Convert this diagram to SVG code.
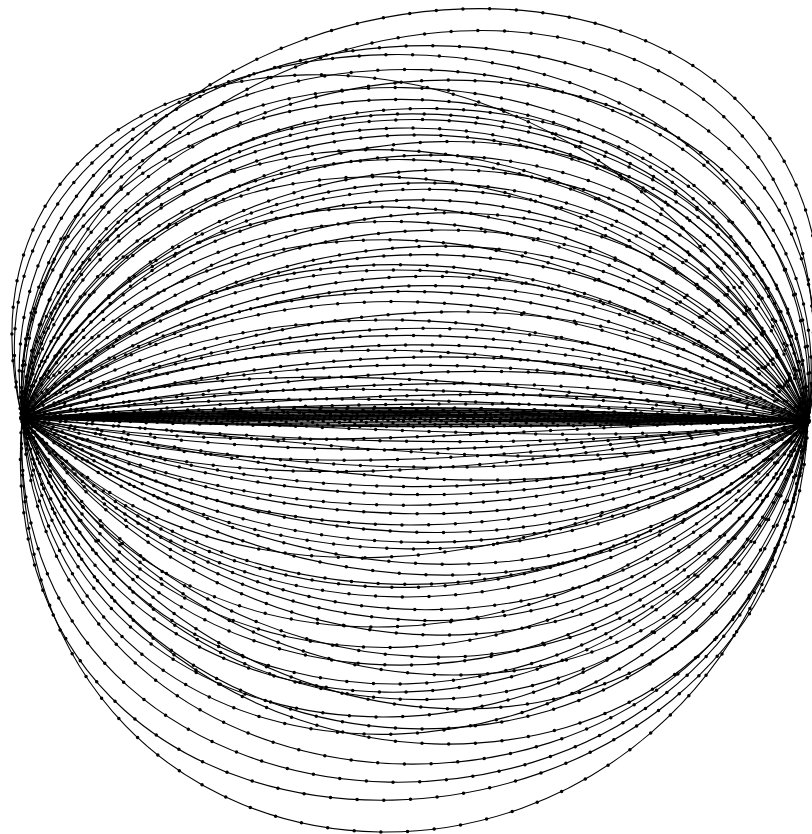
<svg xmlns="http://www.w3.org/2000/svg" width="812" height="834" viewBox="0 0 812 834">
<style>
.ln{fill:none;stroke:#000;stroke-width:1.1}
.dt{fill:none;stroke:#000;stroke-width:3.5;stroke-linecap:round;stroke-dasharray:0 26.7}
</style>
<defs>
<g id="E">
<path stroke-dashoffset="0" d="M22 418C20 -100 941 -156 808 421"/>
<path stroke-dashoffset="11" d="M22 418C60 -60 890 -137 808 421"/>
<path stroke-dashoffset="22" d="M22 418C-80 -20 620 -60 808 421"/>
<path stroke-dashoffset="6" d="M22 418C-39 -79 909 -79 808 421"/>
<path stroke-dashoffset="17" d="M22 418C-78 -52 838 -82 808 421"/>
<path stroke-dashoffset="1" d="M22 418C-6 -67 856 -27 808 421"/>
<path stroke-dashoffset="12" d="M22 418C40 -23 870 -43 808 421"/>
<path stroke-dashoffset="23" d="M22 418C-2 -33 802 -13 808 421"/>
<path stroke-dashoffset="7" d="M22 418C-7 18 757 -32 808 421"/>
<path stroke-dashoffset="18" d="M22 418C77 -10 813 20 808 421"/>
<path stroke-dashoffset="2" d="M22 418C49 17 771 7 808 421"/>
<path stroke-dashoffset="13" d="M22 418C88 -5 792 45 808 421"/>
<path stroke-dashoffset="24" d="M22 418C50 51 730 11 808 421"/>
<path stroke-dashoffset="8" d="M22 418C89 40 751 40 808 421"/>
<path stroke-dashoffset="19" d="M22 418C129 64 771 34 808 421"/>
<path stroke-dashoffset="3" d="M22 418C75 40 695 80 808 421"/>
<path stroke-dashoffset="14" d="M22 418C126 77 734 57 808 421"/>
<path stroke-dashoffset="25" d="M22 418C108 63 702 83 808 421"/>
<path stroke-dashoffset="9" d="M22 418C150 112 720 62 808 421"/>
<path stroke-dashoffset="20" d="M22 418C104 81 656 111 808 421"/>
<path stroke-dashoffset="4" d="M22 418C156 109 694 99 808 421"/>
<path stroke-dashoffset="15" d="M22 418C194 88 716 138 808 421"/>
<path stroke-dashoffset="26" d="M22 418C150 147 650 107 808 421"/>
<path stroke-dashoffset="10" d="M22 418C132 136 618 136 808 421"/>
<path stroke-dashoffset="21" d="M22 418C208 159 682 129 808 421"/>
<path stroke-dashoffset="5" d="M22 418C182 136 638 176 808 421"/>
<path stroke-dashoffset="16" d="M22 418C220 177 660 157 808 421"/>
<path stroke-dashoffset="0" d="M22 418C179 170 601 190 808 421"/>
<path stroke-dashoffset="11" d="M22 418C215 214 625 164 808 421"/>
<path stroke-dashoffset="22" d="M22 418C251 185 649 215 808 421"/>
<path stroke-dashoffset="6" d="M22 418C194 218 576 208 808 421"/>
<path stroke-dashoffset="17" d="M22 418C244 196 616 246 808 421"/>
<path stroke-dashoffset="1" d="M22 418C223 249 587 209 808 421"/>
<path stroke-dashoffset="12" d="M22 418C259 241 611 241 808 421"/>
<path stroke-dashoffset="23" d="M22 418C208 264 552 234 808 421"/>
<path stroke-dashoffset="7" d="M22 418C259 243 591 283 808 421"/>
<path stroke-dashoffset="18" d="M22 418C294 286 616 266 808 421"/>
<path stroke-dashoffset="2" d="M22 418C243 277 557 297 808 421"/>
<path stroke-dashoffset="13" d="M22 418C223 324 527 274 808 421"/>
<path stroke-dashoffset="24" d="M22 418C296 293 594 323 808 421"/>
<path stroke-dashoffset="8" d="M22 418C264 325 556 315 808 421"/>
<path stroke-dashoffset="19" d="M22 418C297 304 583 354 808 421"/>
<path stroke-dashoffset="3" d="M22 418C249 357 531 317 808 421"/>
<path stroke-dashoffset="14" d="M22 418C281 347 559 347 808 421"/>
<path stroke-dashoffset="25" d="M22 418C312 371 588 341 808 421"/>
<path stroke-dashoffset="9" d="M22 418C249 345 521 385 808 421"/>
<path stroke-dashoffset="20" d="M22 418C295 382 565 362 808 421"/>
<path stroke-dashoffset="4" d="M22 418C271 370 539 390 808 421"/>
<path stroke-dashoffset="15" d="M22 418C302 399 568 375 808 421"/>
<path stroke-dashoffset="26" d="M22 418C247 385 513 401 808 421"/>
<path stroke-dashoffset="10" d="M22 418C293 405 557 393 808 421"/>
<path stroke-dashoffset="21" d="M22 418C323 398 587 410 808 421"/>
<path stroke-dashoffset="5" d="M22 418C268 412 532 404 808 421"/>
<path stroke-dashoffset="16" d="M22 418C243 407 507 415 808 421"/>
<path stroke-dashoffset="0" d="M22 418C313 416 577 410 808 421"/>
<path stroke-dashoffset="11" d="M22 418C278 413 542 419 808 421"/>
<path stroke-dashoffset="22" d="M22 418C290 405 540 405 808 421"/>
<path stroke-dashoffset="6" d="M22 418C270 407 560 407 808 421"/>
<path stroke-dashoffset="17" d="M22 418C300 409 530 409 808 421"/>
<path stroke-dashoffset="1" d="M22 418C260 410 550 410 808 421"/>
<path stroke-dashoffset="12" d="M22 418C285 412 545 412 808 421"/>
<path stroke-dashoffset="23" d="M22 418C310 414 570 414 808 421"/>
<path stroke-dashoffset="7" d="M22 418C255 415 525 415 808 421"/>
<path stroke-dashoffset="18" d="M22 418C295 417 560 417 808 421"/>
<path stroke-dashoffset="2" d="M22 418C275 418 535 418 808 421"/>
<path stroke-dashoffset="13" d="M22 418C305 419 575 419 808 421"/>
<path stroke-dashoffset="24" d="M22 418C265 420 530 420 808 421"/>
<path stroke-dashoffset="8" d="M22 418C290 421 555 421 808 421"/>
<path stroke-dashoffset="19" d="M22 418C280 422 545 422 808 421"/>
<path stroke-dashoffset="3" d="M22 418C300 424 565 424 808 421"/>
<path stroke-dashoffset="14" d="M22 418C262 426 528 426 808 421"/>
<path stroke-dashoffset="25" d="M22 418C288 428 552 428 808 421"/>
<path stroke-dashoffset="9" d="M22 418C263 429 527 429 808 421"/>
<path stroke-dashoffset="20" d="M22 418C318 421 582 451 808 421"/>
<path stroke-dashoffset="4" d="M22 418C272 463 538 423 808 421"/>
<path stroke-dashoffset="15" d="M22 418C242 438 508 458 808 421"/>
<path stroke-dashoffset="26" d="M22 418C296 469 564 449 808 421"/>
<path stroke-dashoffset="10" d="M22 418C320 440 590 490 808 421"/>
<path stroke-dashoffset="21" d="M22 418C249 488 521 458 808 421"/>
<path stroke-dashoffset="5" d="M22 418C283 478 557 488 808 421"/>
<path stroke-dashoffset="16" d="M22 418C253 512 527 462 808 421"/>
<path stroke-dashoffset="0" d="M22 418C301 479 579 519 808 421"/>
<path stroke-dashoffset="11" d="M22 418C269 509 551 509 808 421"/>
<path stroke-dashoffset="22" d="M22 418C238 504 522 534 808 421"/>
<path stroke-dashoffset="6" d="M22 418C299 553 591 513 808 421"/>
<path stroke-dashoffset="17" d="M22 418C251 535 549 555 808 421"/>
<path stroke-dashoffset="1" d="M22 418C272 570 578 550 808 421"/>
<path stroke-dashoffset="12" d="M22 418C239 544 551 594 808 421"/>
<path stroke-dashoffset="23" d="M22 418C290 598 610 568 808 421"/>
<path stroke-dashoffset="7" d="M22 418C241 587 569 597 808 421"/>
<path stroke-dashoffset="18" d="M22 418C207 628 543 578 808 421"/>
<path stroke-dashoffset="2" d="M22 418C259 592 601 632 808 421"/>
<path stroke-dashoffset="13" d="M22 418C277 627 633 627 808 421"/>
<path stroke-dashoffset="24" d="M22 418C202 624 568 654 808 421"/>
<path stroke-dashoffset="8" d="M22 418C235 663 605 623 808 421"/>
<path stroke-dashoffset="19" d="M22 418C198 646 582 666 808 421"/>
<path stroke-dashoffset="3" d="M22 418C239 683 641 663 808 421"/>
<path stroke-dashoffset="14" d="M22 418C202 662 618 712 808 421"/>
<path stroke-dashoffset="25" d="M22 418C167 711 593 681 808 421"/>
<path stroke-dashoffset="9" d="M22 418C225 702 665 712 808 421"/>
<path stroke-dashoffset="20" d="M22 418C170 748 630 698 808 421"/>
<path stroke-dashoffset="4" d="M22 418C186 716 664 756 808 421"/>
<path stroke-dashoffset="15" d="M22 418C149 747 641 747 808 421"/>
<path stroke-dashoffset="26" d="M22 418C194 745 706 775 808 421"/>
<path stroke-dashoffset="10" d="M22 418C141 792 669 752 808 421"/>
<path stroke-dashoffset="21" d="M22 418C102 773 648 793 808 421"/>
<path stroke-dashoffset="5" d="M22 418C149 803 711 783 808 421"/>
<path stroke-dashoffset="16" d="M22 418C164 780 746 830 808 421"/>
<path stroke-dashoffset="0" d="M22 418C85 831 685 801 808 421"/>
<path stroke-dashoffset="11" d="M22 418C107 827 733 837 808 421"/>
<path stroke-dashoffset="22" d="M22 418C71 864 709 814 808 421"/>
<path stroke-dashoffset="6" d="M22 418C109 832 771 872 808 421"/>
<path stroke-dashoffset="17" d="M22 418C53 879 767 879 808 421"/>
<path stroke-dashoffset="1" d="M22 418C-1 888 761 918 808 421"/>
<path stroke-dashoffset="12" d="M22 418C-21 947 791 907 808 421"/>
<path stroke-dashoffset="23" d="M22 418C0 960 736 979 808 421"/>
</g>
</defs>
<rect width="812" height="834" fill="#fff"/>
<g id="connectors" class="ln"><use href="#E"/></g>
<g id="nodes" class="dt"><use href="#E"/></g>
<g id="hub-left"><circle cx="22" cy="418" r="3" fill="#000"/></g>
<g id="hub-right"><circle cx="808" cy="421" r="3" fill="#000"/></g>
</svg>
